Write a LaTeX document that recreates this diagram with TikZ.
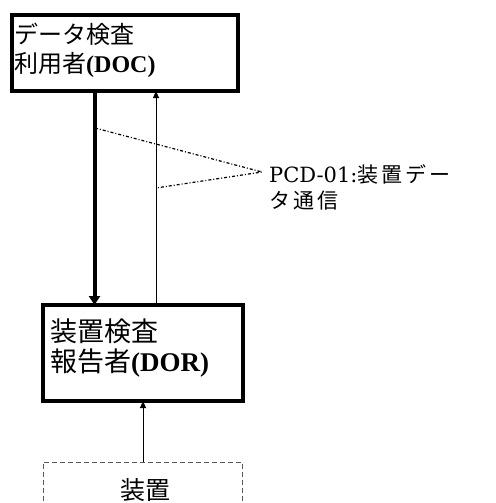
\documentclass[tikz,border=0pt]{standalone}
\usepackage{fontspec}
\setmainfont{Liberation Serif}
\newfontfamily\jp{Noto Sans CJK JP}
\newfontfamily\lblserif{DejaVu Serif}
\usetikzlibrary{arrows.meta}
\begin{document}
\begin{tikzpicture}[x=1pt,y=-1pt,
  boxthick/.style={draw, line width=3.5pt, rectangle, inner sep=0pt, outer sep=0pt, anchor=north west},
  boxdash/.style={draw, line width=0.9pt, dash pattern=on 5pt off 3pt, draw=black!65, rectangle, inner sep=0pt, outer sep=0pt, anchor=north west},
  toptext/.style={anchor=base west, inner sep=0pt, font=\fontsize{24}{30}\selectfont},
  lowtext/.style={anchor=base west, inner sep=0pt, font=\fontsize{27}{32}\selectfont},
  lbl/.style={anchor=base west, inner sep=0pt, font=\fontsize{21}{27}\selectfont},
  thickarr/.style={line width=4pt, -{Triangle[length=9pt,width=11pt]}},
  thinarr/.style={line width=0.8pt, -{Triangle[length=7pt,width=6pt]}},
  sig/.style={line width=1.2pt, dash pattern=on 3pt off 2pt on 1pt off 2pt}
]
\useasboundingbox (0,0) rectangle (495,503);
\clip (0,0) rectangle (495,503);
% boxes
\node[boxthick, minimum width=226pt, minimum height=76pt] (doc) at (12,15) {};
\node[toptext] (doc1) at (14,43.5) {\jp データ検査};
\node[toptext] (doc2) at (14,73) {{\jp 利用者}\textbf{(DOC)}};
\node[boxthick, minimum width=200pt, minimum height=96pt] (dor) at (43,305) {};
\node[lowtext] (dor1) at (50,341) {\jp 装置検査};
\node[lowtext] (dor2) at (50,371) {{\jp 報告者}\textbf{(DOR)}};
\node[boxdash, minimum width=199pt, minimum height=80pt] (dev) at (43,462) {};
\node[anchor=center, inner sep=0pt, font=\fontsize{25}{28}\selectfont\jp] (devt) at (145,490) {装置};
% connectors
\coordinate (xa) at (94.5,0);
\coordinate (xb) at (156,0);
\coordinate (xc) at (143,0);
\draw[thickarr] (xa |- doc.south) -- (xa |- dor.north);
\draw[thinarr] (xb |- dor.north) -- (xb |- doc.south);
\draw[thinarr] (xc |- dev.north) -- (xc |- dor.south);
\coordinate (p1) at (95,128);
\coordinate (p2) at (156,188);
\coordinate (tip) at (262,172);
\draw[sig] (p1) -- (tip) -- (p2);
\node[lbl] (lab1) at (269,182) {\lblserif PCD-01:{\jp\fontsize{21}{27}\selectfont 装\hspace{3pt}置\hspace{3pt}デ\hspace{3pt}ー}};
\node[lbl] (lab2) at (269,208) {\jp\fontsize{21}{27}\selectfont タ\hspace{3pt}通\hspace{3pt}信};
\end{tikzpicture}
\end{document}
